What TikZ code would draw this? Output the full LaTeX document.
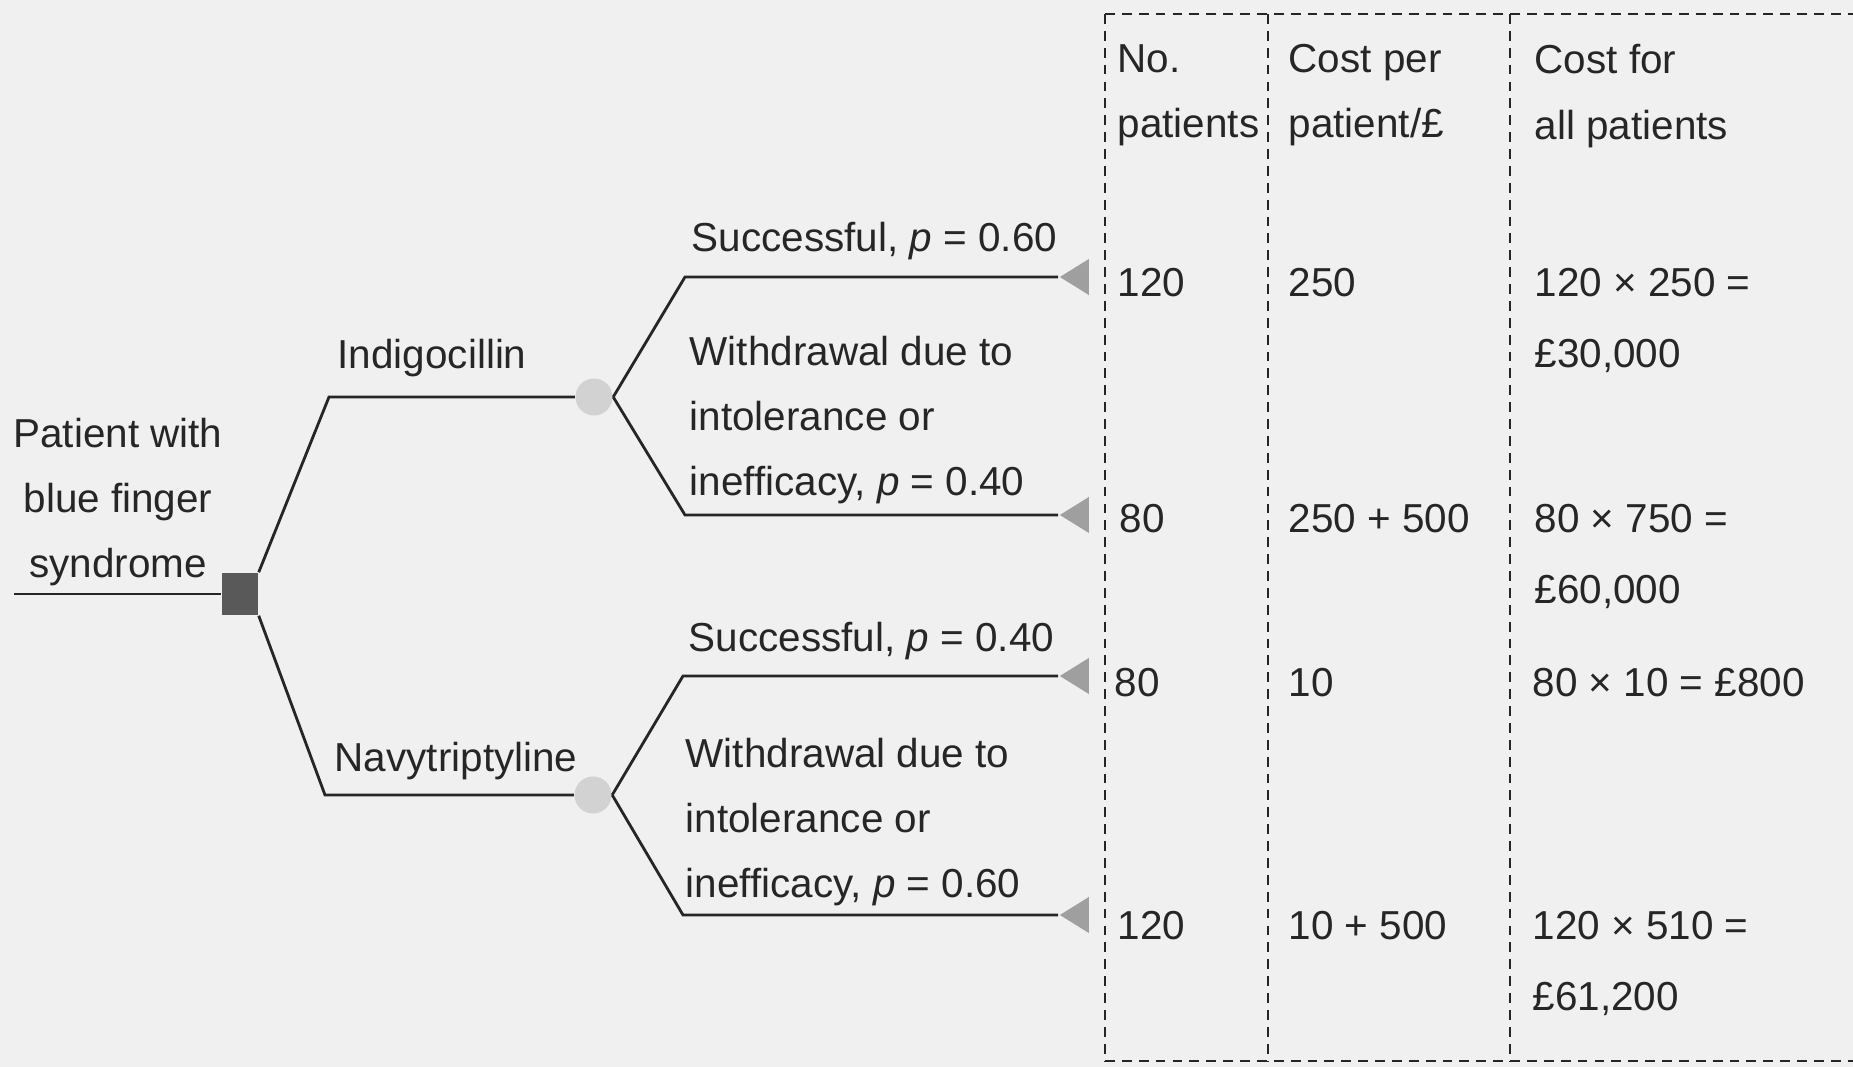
\documentclass[tikz,border=0pt]{standalone}
\usepackage{fontspec}
\setmainfont{Liberation Sans}
\usetikzlibrary{shapes.geometric}
\definecolor{paper}{gray}{0.94}
\definecolor{ink}{gray}{0.15}
\begin{document}
\begin{tikzpicture}[x=0.01cm,y=-0.01cm,
    txt/.style={inner sep=0,text=ink,font=\fontsize{11.5}{18.5}\selectfont},
    lbl/.style={txt,anchor=base west},
    multi/.style={txt,anchor=north west,align=left},
    cost/.style={multi,font=\fontsize{11.5}{20}\selectfont},
    branch/.style={draw=ink,line width=0.8pt},
    decision/.style={rectangle,fill=gray!70!black,minimum width=0.36cm,minimum height=0.42cm,inner sep=0},
    chance/.style={circle,fill=gray!35,minimum size=0.37cm,inner sep=0},
    terminal/.style={isosceles triangle,shape border rotate=180,isosceles triangle stretches,
        fill=gray!75,minimum width=0.36cm,minimum height=0.29cm,inner sep=0,anchor=apex},
    tablerule/.style={draw=ink,dash pattern=on 2.8pt off 2pt,line width=0.7pt}]
    \useasboundingbox[fill=paper] (0,0) rectangle (1853,1067);

    % decision and chance nodes
    \coordinate (root) at (14,594);
    \node[decision] (dec) at (240,594) {};
    \node[chance] (chA) at (594,397) {};
    \node[chance] (chB) at (593,795) {};
    \coordinate (kA) at (329,397);
    \coordinate (kB) at (325,795);
    \draw[branch] (root) -- (dec);
    \draw[branch] (dec.north east) -- (kA) -- (chA);
    \draw[branch] (dec.south east) -- (kB) -- (chB);

    % outcomes
    \node[terminal] (tA1) at (1058,277) {};
    \node[terminal] (tA2) at (1058,515) {};
    \node[terminal] (tB1) at (1058,676) {};
    \node[terminal] (tB2) at (1058,915) {};
    \coordinate (kA1) at (685,277);
    \coordinate (kA2) at (685,515);
    \coordinate (kB1) at (683,676);
    \coordinate (kB2) at (683,915);
    \draw[branch] (chA.east) -- (kA1) -- (tA1.apex);
    \draw[branch] (chA.east) -- (kA2) -- (tA2.apex);
    \draw[branch] (chB.east) -- (kB1) -- (tB1.apex);
    \draw[branch] (chB.east) -- (kB2) -- (tB2.apex);

    \node[txt,anchor=north,align=center] (patient) at (118,417) {Patient with\\blue finger\\syndrome};
    \node[lbl] (indigo) at (337,369) {Indigocillin};
    \node[lbl] (navy) at (334,772) {Navytriptyline};
    \node[lbl] (succA) at (691,252) {Successful, \textit{p} = 0.60};
    \node[multi] (failA) at (689,335) {Withdrawal due to\\intolerance or\\inefficacy, \textit{p} = 0.40};
    \node[lbl] (succB) at (688,652) {Successful, \textit{p} = 0.40};
    \node[multi] (failB) at (685,737) {Withdrawal due to\\intolerance or\\inefficacy, \textit{p} = 0.60};

    % cost table
    \draw[tablerule] (1105,14) -- (1853,14);
    \draw[tablerule] (1105,1061) -- (1853,1061);
    \foreach \x in {1105,1268,1510}
        \draw[tablerule] (\x,14) -- (\x,1061);

    \node[multi] (hNo) at (1117,44) {No.\\patients};
    \node[multi] (hPer) at (1288,44) {Cost per\\patient/£};
    \node[multi] (hAll) at (1534,44) {Cost for\\all patients};

    \node[lbl] (n1) at (1117,297) {120};
    \node[lbl] (c1) at (1288,297) {250};
    \node[cost] (s1) at (1534,268) {120 × 250 =\\£30,000};
    \node[lbl] (n2) at (1119,533) {80};
    \node[lbl] (c2) at (1288,533) {250 + 500};
    \node[cost] (s2) at (1534,504) {80 × 750 =\\£60,000};
    \node[lbl] (n3) at (1114,697) {80};
    \node[lbl] (c3) at (1288,697) {10};
    \node[lbl] (s3) at (1532,697) {80 × 10 = £800};
    \node[lbl] (n4) at (1117,940) {120};
    \node[lbl] (c4) at (1288,940) {10 + 500};
    \node[cost] (s4) at (1532,911) {120 × 510 =\\£61,200};
\end{tikzpicture}
\end{document}
